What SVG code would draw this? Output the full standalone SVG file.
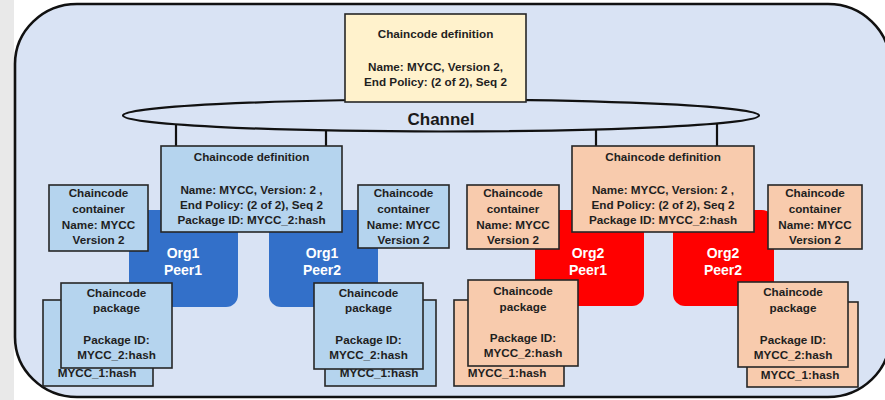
<svg xmlns="http://www.w3.org/2000/svg" width="885" height="400" viewBox="0 0 885 400">
  <style>
    text { font-family: "Liberation Sans", Arial, sans-serif; font-weight: bold; text-anchor: middle; }
    .t { font-size: 11.7px; fill: #1f1f1f; }
    .peer-t { font-size: 14px; fill: #ffffff; }
    .box { stroke: #262626; stroke-width: 1.6; }
    .blue { fill: #b5d4ee; }
    .orange { fill: #f8cbad; }
    .yellow { fill: #fff2cc; }
    .peer1 { fill: #3370c9; }
    .peer2 { fill: #ff0000; }
    .link { stroke: #111; stroke-width: 2.2; fill: none; }
  </style>

  <!-- page background -->
  <rect x="0" y="0" width="885" height="400" fill="#ffffff"/>
  <rect x="0" y="0" width="14" height="400" fill="#e9e9e9"/>

  <!-- network frame -->
  <rect id="frame" x="15" y="4" width="875" height="393" rx="62" ry="60" fill="#d9e3f4" stroke="#111" stroke-width="2.6"/>

  <!-- connectors from channel to chaincode definitions -->
  <g id="connectors">
    <line class="link" x1="176" y1="116" x2="176" y2="146"/>
    <line class="link" x1="326" y1="116" x2="326" y2="146"/>
    <line class="link" x1="596" y1="116" x2="596" y2="146"/>
    <line class="link" x1="717" y1="116" x2="717" y2="146"/>
  </g>

  <!-- channel -->
  <g id="channel">
    <ellipse cx="441" cy="115.5" rx="318" ry="16" fill="#d9e3f4" stroke="#111" stroke-width="2.2"/>
    <text x="441" y="125" style="font-size:17px;fill:#1a1a1a">Channel</text>
  </g>

  <!-- channel chaincode definition -->
  <g id="channel-definition">
    <rect class="box yellow" x="345" y="14" width="181" height="88"/>
    <text class="t" x="435.5" y="38">Chaincode definition</text>
    <text class="t" x="435.5" y="71">Name: MYCC, Version 2,</text>
    <text class="t" x="435.5" y="86">End Policy: (2 of 2), Seq  2</text>
  </g>

  <!-- peers -->
  <g id="org1-peer1">
    <rect class="peer1" x="129" y="210" width="109" height="97" rx="12"/>
    <text class="peer-t" x="183" y="258">Org1</text>
    <text class="peer-t" x="183" y="275">Peer1</text>
  </g>
  <g id="org1-peer2">
    <rect class="peer1" x="269" y="210" width="109" height="97" rx="12"/>
    <text class="peer-t" x="322" y="258">Org1</text>
    <text class="peer-t" x="322" y="275">Peer2</text>
  </g>
  <g id="org2-peer1">
    <rect class="peer2" x="535" y="210" width="109" height="96" rx="12"/>
    <text class="peer-t" x="588" y="258">Org2</text>
    <text class="peer-t" x="588" y="275">Peer1</text>
  </g>
  <g id="org2-peer2">
    <rect class="peer2" x="673" y="210" width="101" height="96" rx="12"/>
    <text class="peer-t" x="723" y="258">Org2</text>
    <text class="peer-t" x="723" y="275">Peer2</text>
  </g>

  <!-- org chaincode definitions -->
  <g id="org1-definition">
    <rect class="box blue" x="161" y="146" width="181" height="86"/>
    <text class="t" x="251.5" y="161">Chaincode definition</text>
    <text class="t" x="251.5" y="194">Name: MYCC, Version: 2 ,</text>
    <text class="t" x="251.5" y="209">End Policy: (2 of 2), Seq 2</text>
    <text class="t" x="251.5" y="224">Package ID: MYCC_2:hash</text>
  </g>
  <g id="org2-definition">
    <rect class="box orange" x="572" y="146" width="182" height="86"/>
    <text class="t" x="663" y="161">Chaincode definition</text>
    <text class="t" x="663" y="194">Name: MYCC, Version: 2 ,</text>
    <text class="t" x="663" y="209">End Policy: (2 of 2),  Seq 2</text>
    <text class="t" x="663" y="224">Package ID: MYCC_2:hash</text>
  </g>

  <!-- chaincode containers -->
  <g id="org1-peer1-container">
    <rect class="box blue" x="49" y="185" width="99" height="66"/>
    <text class="t" x="98.5" y="197">Chaincode</text>
    <text class="t" x="98.5" y="213">container</text>
    <text class="t" x="98.5" y="229">Name: MYCC</text>
    <text class="t" x="98.5" y="244">Version 2</text>
  </g>
  <g id="org1-peer2-container">
    <rect class="box blue" x="358" y="185" width="91" height="63"/>
    <text class="t" x="403.5" y="197">Chaincode</text>
    <text class="t" x="403.5" y="213">container</text>
    <text class="t" x="403.5" y="229">Name: MYCC</text>
    <text class="t" x="403.5" y="244">Version  2</text>
  </g>
  <g id="org2-peer1-container">
    <rect class="box orange" x="467" y="185" width="92" height="64"/>
    <text class="t" x="513" y="197">Chaincode</text>
    <text class="t" x="513" y="213">container</text>
    <text class="t" x="513" y="229">Name: MYCC</text>
    <text class="t" x="513" y="244">Version  2</text>
  </g>
  <g id="org2-peer2-container">
    <rect class="box orange" x="768" y="185" width="94" height="64"/>
    <text class="t" x="815" y="197">Chaincode</text>
    <text class="t" x="815" y="213">container</text>
    <text class="t" x="815" y="229">Name: MYCC</text>
    <text class="t" x="815" y="244">Version  2</text>
  </g>

  <!-- chaincode packages (old version behind, new version in front) -->
  <g id="org1-peer1-packages">
    <rect class="box blue" x="43" y="300" width="110" height="86"/>
    <text class="t" x="97" y="377">MYCC_1:hash</text>
    <rect class="box blue" x="61" y="283" width="111" height="85"/>
    <text class="t" x="116.5" y="297">Chaincode</text>
    <text class="t" x="116.5" y="312">package</text>
    <text class="t" x="116.5" y="344">Package ID:</text>
    <text class="t" x="116.5" y="359">MYCC_2:hash</text>
  </g>
  <g id="org1-peer2-packages">
    <rect class="box blue" x="325" y="300" width="111" height="86"/>
    <text class="t" x="379" y="377">MYCC_1:hash</text>
    <rect class="box blue" x="314" y="283" width="109" height="86"/>
    <text class="t" x="368.5" y="297">Chaincode</text>
    <text class="t" x="368.5" y="312">package</text>
    <text class="t" x="368.5" y="344">Package ID:</text>
    <text class="t" x="368.5" y="359">MYCC_2:hash</text>
  </g>
  <g id="org2-peer1-packages">
    <rect class="box orange" x="454" y="300" width="110" height="86"/>
    <text class="t" x="507" y="377">MYCC_1:hash</text>
    <rect class="box orange" x="468" y="280" width="110" height="86"/>
    <text class="t" x="523" y="295">Chaincode</text>
    <text class="t" x="523" y="311">package</text>
    <text class="t" x="523" y="342">Package ID:</text>
    <text class="t" x="523" y="357">MYCC_2:hash</text>
  </g>
  <g id="org2-peer2-packages">
    <rect class="box orange" x="747" y="302" width="111" height="85"/>
    <text class="t" x="800" y="379">MYCC_1:hash</text>
    <rect class="box orange" x="738" y="282" width="110" height="85"/>
    <text class="t" x="793" y="296">Chaincode</text>
    <text class="t" x="793" y="312">package</text>
    <text class="t" x="793" y="344">Package ID:</text>
    <text class="t" x="793" y="359">MYCC_2:hash</text>
  </g>
</svg>
